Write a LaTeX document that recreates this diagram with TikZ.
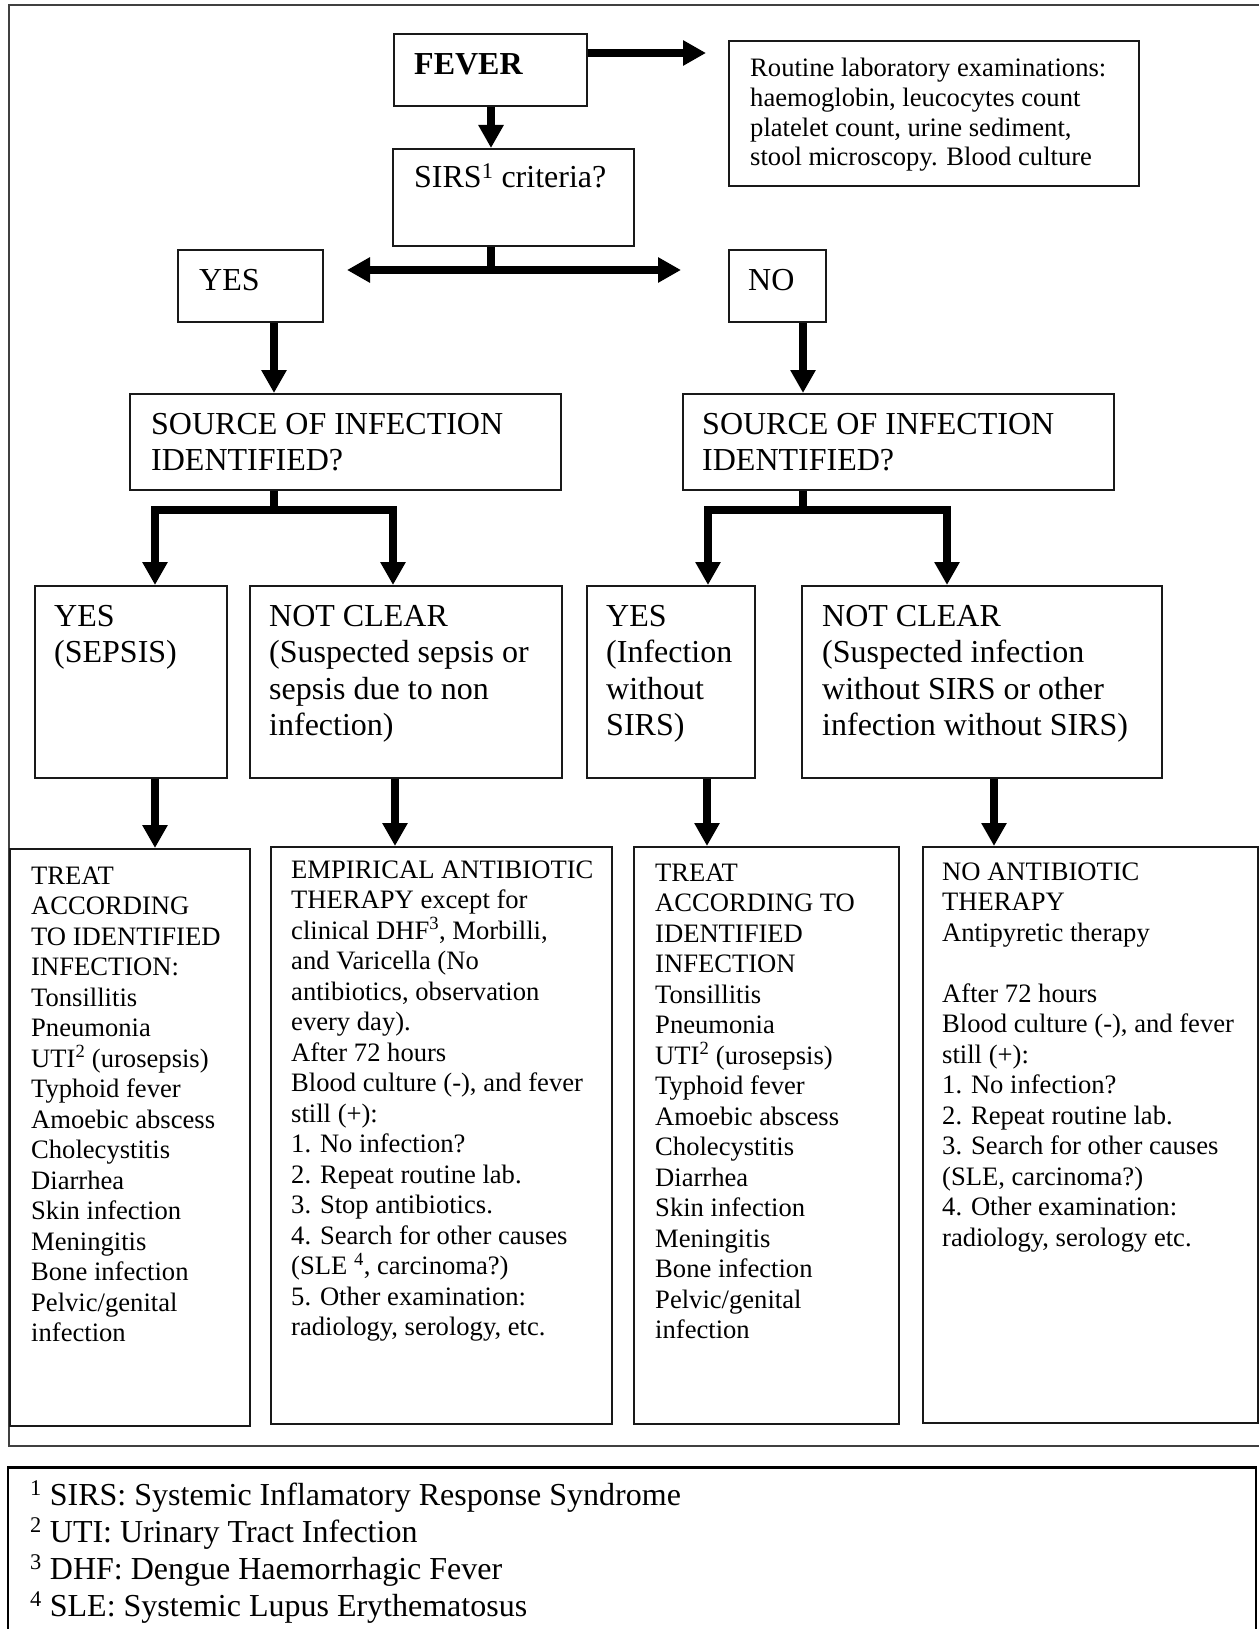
\documentclass[tikz,border=0pt]{standalone}
\usepackage{fontspec}
\setmainfont{Liberation Serif}
\usetikzlibrary{arrows.meta}
\newcommand{\mlines}[1]{\begin{tabular}[t]{@{}l@{}}#1\end{tabular}}
\begin{document}
\begin{tikzpicture}[x=1pt,y=-1pt,
  box/.style={draw=black!90, line width=2pt, rectangle, inner sep=0pt, anchor=north west},
  bigtxt/.style={font=\fontsize{32}{36.5}\selectfont, inner sep=0pt, anchor=base west},
  smalltxt/.style={font=\fontsize{26.6}{30.5}\selectfont, inner sep=0pt, anchor=base west},
  conn/.style={line width=8.5pt},
  arr/.style={conn, -{Triangle[length=23pt,width=24pt]}},
  darr/.style={conn, {Triangle[length=23pt,width=24pt]}-{Triangle[length=23pt,width=24pt]}},
  frame/.style={draw=black!75, line width=1.5pt}]

\useasboundingbox (0,0) rectangle (1258,1629);
\fill[white] (0,0) rectangle (1258,1629);

% outer frames
\draw[frame] (1262,5) -- (9,5) -- (9,1446) -- (1262,1446);
\draw[draw=black, line width=2pt] (8,1629) -- (8,1467) -- (1256,1467) -- (1256,1629);
\draw[draw=black, line width=3pt] (8,1467) -- (1256,1467);

% boxes
\node[box, minimum width=193pt, minimum height=72pt] (fever) at (393,33) {};
\node[box, minimum width=410pt, minimum height=145pt] (lab) at (728,40) {};
\node[box, minimum width=241pt, minimum height=97pt] (sirs) at (392,148) {};
\node[box, minimum width=145pt, minimum height=72pt] (yes) at (177,249) {};
\node[box, minimum width=97pt, minimum height=72pt] (no) at (728,249) {};
\node[box, minimum width=431pt, minimum height=96pt] (srcl) at (129,393) {};
\node[box, minimum width=431pt, minimum height=96pt] (srcr) at (682,393) {};
\node[box, minimum width=192pt, minimum height=192pt] (l3a) at (34,585) {};
\node[box, minimum width=312pt, minimum height=192pt] (l3b) at (249,585) {};
\node[box, minimum width=168pt, minimum height=192pt] (l3c) at (586,585) {};
\node[box, minimum width=360pt, minimum height=192pt] (l3d) at (801,585) {};
\node[box, minimum width=240pt, minimum height=577pt] (l4a) at (9,848) {};
\node[box, minimum width=341pt, minimum height=577pt] (l4b) at (270,846) {};
\node[box, minimum width=265pt, minimum height=577pt] (l4c) at (633,846) {};
\node[box, minimum width=335pt, minimum height=576pt] (l4d) at (922,846) {};

% texts
\node[bigtxt, font=\fontsize{32}{36.5}\selectfont\bfseries] (tfever) at (414,75) {FEVER};
\node[smalltxt, font=\fontsize{26.6}{29.6}\selectfont] (tlab) at (750,77) {\mlines{Routine laboratory examinations:\\haemoglobin, leucocytes count\\platelet count, urine sediment,\\stool microscopy. Blood culture}};
\node[bigtxt] (tsirs) at (414,188) {SIRS\textsuperscript{1} criteria?};
\node[bigtxt] (tyes) at (199,290) {YES};
\node[bigtxt] (tno) at (748,290) {NO};
\node[bigtxt] (tsrcl) at (151,434) {\mlines{SOURCE OF INFECTION\\IDENTIFIED?}};
\node[bigtxt] (tsrcr) at (702,434) {\mlines{SOURCE OF INFECTION\\IDENTIFIED?}};
\node[bigtxt] (tl3a) at (54,626) {\mlines{YES\\(SEPSIS)}};
\node[bigtxt] (tl3b) at (269,626) {\mlines{NOT CLEAR\\(Suspected sepsis or\\sepsis due to non\\infection)}};
\node[bigtxt] (tl3c) at (606,626) {\mlines{YES\\(Infection\\without\\SIRS)}};
\node[bigtxt] (tl3d) at (822,626) {\mlines{NOT CLEAR\\(Suspected infection\\without SIRS or other\\infection without SIRS)}};
\node[smalltxt] (tl4a) at (31,884) {\mlines{TREAT\\ACCORDING\\TO IDENTIFIED\\INFECTION:\\Tonsillitis\\Pneumonia\\UTI\textsuperscript{2} (urosepsis)\\Typhoid fever\\Amoebic abscess\\Cholecystitis\\Diarrhea\\Skin infection\\Meningitis\\Bone infection\\Pelvic/genital\\infection}};
\node[smalltxt] (tl4b) at (291,878) {\mlines{EMPIRICAL ANTIBIOTIC\\THERAPY except for\\clinical DHF\textsuperscript{3}, Morbilli,\\and Varicella (No\\antibiotics, observation\\every day).\\After 72 hours\\Blood culture (-), and fever\\still (+):\\1. No infection?\\2. Repeat routine lab.\\3. Stop antibiotics.\\4. Search for other causes\\(SLE \textsuperscript{4}, carcinoma?)\\5. Other examination:\\radiology, serology, etc.}};
\node[smalltxt] (tl4c) at (655,881) {\mlines{TREAT\\ACCORDING TO\\IDENTIFIED\\INFECTION\\Tonsillitis\\Pneumonia\\UTI\textsuperscript{2} (urosepsis)\\Typhoid fever\\Amoebic abscess\\Cholecystitis\\Diarrhea\\Skin infection\\Meningitis\\Bone infection\\Pelvic/genital\\infection}};
\node[smalltxt] (tl4d) at (942,880) {\mlines{NO ANTIBIOTIC\\THERAPY\\Antipyretic therapy\\ \\After 72 hours\\Blood culture (-), and fever\\still (+):\\1. No infection?\\2. Repeat routine lab.\\3. Search for other causes\\(SLE, carcinoma?)\\4. Other examination:\\radiology, serology etc.}};
\node[bigtxt, font=\fontsize{32}{37}\selectfont] (tfoot) at (30,1505) {\mlines{\textsuperscript{1} SIRS: Systemic Inflamatory Response Syndrome\\\textsuperscript{2} UTI: Urinary Tract Infection\\\textsuperscript{3} DHF: Dengue Haemorrhagic Fever\\\textsuperscript{4} SLE: Systemic Lupus Erythematosus}};

% connector helper coordinates
\coordinate (labtip) at (706,53);
\coordinate (split) at (491,270);
\coordinate (yestip) at (347,270);
\coordinate (notip) at (681,270);
\coordinate (yesx) at (274,0);
\coordinate (nox) at (803,0);
\coordinate (flL) at (155,510);
\coordinate (flR) at (393,510);
\coordinate (frL) at (708,510);
\coordinate (frR) at (947,510);
\coordinate (d2) at (395,0);
\coordinate (d3) at (707,0);
\coordinate (d4) at (994,0);

% connectors
\draw[arr] (fever.east |- labtip) -- (labtip);
\draw[arr] (fever.south -| split) -- (split |- sirs.north);
\draw[conn] (split |- sirs.south) -- (split);
\draw[darr] (yestip) -- (notip);
\draw[arr] (yes.south -| yesx) -- (yesx |- srcl.north);
\draw[arr] (no.south -| nox) -- (nox |- srcr.north);
\draw[conn] (srcl.south -| yesx) -- (yesx |- flL);
\draw[darr] (flL |- l3a.north) -- (flL) -- (flR) -- (flR |- l3b.north);
\draw[conn] (srcr.south -| nox) -- (nox |- frL);
\draw[darr] (frL |- l3c.north) -- (frL) -- (frR) -- (frR |- l3d.north);
\draw[arr] (l3a.south -| flL) -- (flL |- l4a.north);
\draw[arr] (l3b.south -| d2) -- (d2 |- l4b.north);
\draw[arr] (l3c.south -| d3) -- (d3 |- l4c.north);
\draw[arr] (l3d.south -| d4) -- (d4 |- l4d.north);
\end{tikzpicture}
\end{document}
